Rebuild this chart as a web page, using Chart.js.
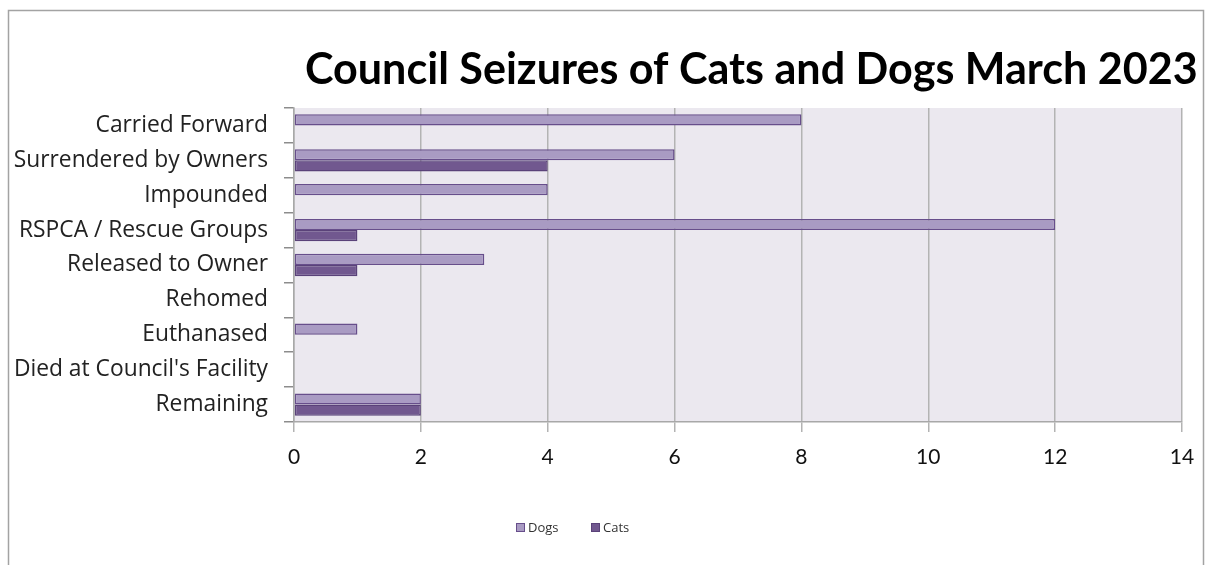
<!DOCTYPE html>
<html lang="en">
<head>
  <meta charset="UTF-8">
  <title>Council Seizures of Cats and Dogs March 2023</title>
  <script src="https://cdn.jsdelivr.net/npm/chart.js"></script>
  <style>
    html, body { margin: 0; padding: 0; background: #fff; }
    #wrap { width: 1211px; height: 565px; position: relative; }
  </style>
</head>
<body>
<div id="wrap">
  <canvas id="barChart" width="1211" height="565"></canvas>
</div>

<script>
  const chartTitle = 'Council Seizures of Cats and Dogs March 2023';
  const categories = [
    'Carried Forward',
    'Surrendered by Owners',
    'Impounded',
    'RSPCA / Rescue Groups',
    'Released to Owner',
    'Rehomed',
    'Euthanased',
    "Died at Council's Facility",
    'Remaining'
  ];
  const dogs = [8, 6, 4, 12, 3, 0, 1, 0, 2];
  const cats = [0, 4, 0, 1, 1, 0, 0, 0, 2];
  const xTicks = [0, 2, 4, 6, 8, 10, 12, 14];

  const fontName = 'Lato, "Open Sans", sans-serif';
  const labelFont = '"Open Sans", Lato, sans-serif';

  // plot background, outer frame, title and legend
  const decor = {
    id: 'decor',
    beforeDraw(chart) {
      const ctx = chart.ctx;
      const a = chart.chartArea;
      ctx.save();
      ctx.fillStyle = '#ffffff';
      ctx.fillRect(0, 0, chart.width, chart.height);
      ctx.fillStyle = '#ebe8ef';
      ctx.fillRect(a.left, a.top, a.right - a.left, a.bottom - a.top);
      ctx.strokeStyle = '#a3a3a3';
      ctx.lineWidth = 1.5;
      ctx.strokeRect(8.5, 10.5, 1195, 600);
      ctx.restore();
    },
    afterDraw(chart) {
      const ctx = chart.ctx;
      ctx.save();
      let size = 40;
      ctx.font = 'bold ' + size + 'px ' + fontName;
      const w = ctx.measureText(chartTitle).width;
      size = size * 893 / w;
      ctx.font = 'bold ' + size.toFixed(1) + 'px ' + fontName;
      ctx.fillStyle = '#000';
      ctx.textAlign = 'left';
      ctx.textBaseline = 'alphabetic';
      ctx.fillText(chartTitle, 305, 84);

      // legend
      ctx.font = '13px ' + labelFont;
      ctx.textBaseline = 'middle';
      let x = 516;
      chart.data.datasets.forEach(ds => {
        ctx.fillStyle = ds.backgroundColor;
        ctx.strokeStyle = ds.borderColor;
        ctx.lineWidth = 1;
        ctx.fillRect(x, 523, 9, 9);
        ctx.strokeRect(x + 0.5, 523.5, 8, 8);
        ctx.fillStyle = '#333';
        ctx.fillText(ds.label, x + 12, 528);
        x += 75;
      });
      ctx.restore();
    }
  };

  const config = {
    type: 'bar',
    data: {
      labels: categories,
      datasets: [
        {
          label: 'Dogs',
          data: dogs,
          backgroundColor: '#a99bc3',
          borderColor: '#674e8b',
          borderWidth: 1.5,
          borderSkipped: false,
          categoryPercentage: 0.64,
          barPercentage: 1.0
        },
        {
          label: 'Cats',
          data: cats,
          backgroundColor: '#71588f',
          borderColor: '#5a4279',
          borderWidth: 1.5,
          borderSkipped: false,
          categoryPercentage: 0.64,
          barPercentage: 1.0
        }
      ]
    },
    options: {
      indexAxis: 'y',
      responsive: false,
      animation: false,
      layout: {
        padding: { top: 108, left: 10, right: 29, bottom: 83 }
      },
      plugins: {
        legend: { display: false },
        title: { display: false },
        tooltip: { enabled: false }
      },
      scales: {
        x: {
          min: 0,
          max: 14,
          afterFit: scale => { scale.height = 60; },
          afterBuildTicks: scale => {
            scale.ticks = xTicks.map(v => ({ value: v }));
          },
          grid: {
            color: '#b3b3b3',
            lineWidth: 1.5,
            drawTicks: true,
            tickLength: 10
          },
          border: { color: '#a8a8a8', width: 1.5 },
          ticks: {
            color: '#111',
            padding: 13,
            font: { family: fontName, size: 21 }
          }
        },
        y: {
          afterFit: scale => { scale.width = 284; },
          grid: {
            drawOnChartArea: false,
            drawTicks: true,
            tickLength: 10,
            color: '#8c8c8c',
            lineWidth: 1.5
          },
          border: { color: '#a8a8a8', width: 1.5 },
          ticks: {
            color: '#222',
            padding: 16,
            font: { family: labelFont, size: 22.8 }
          }
        }
      }
    },
    plugins: [decor]
  };

  new Chart(document.getElementById('barChart'), config);
</script>
</body>
</html>
